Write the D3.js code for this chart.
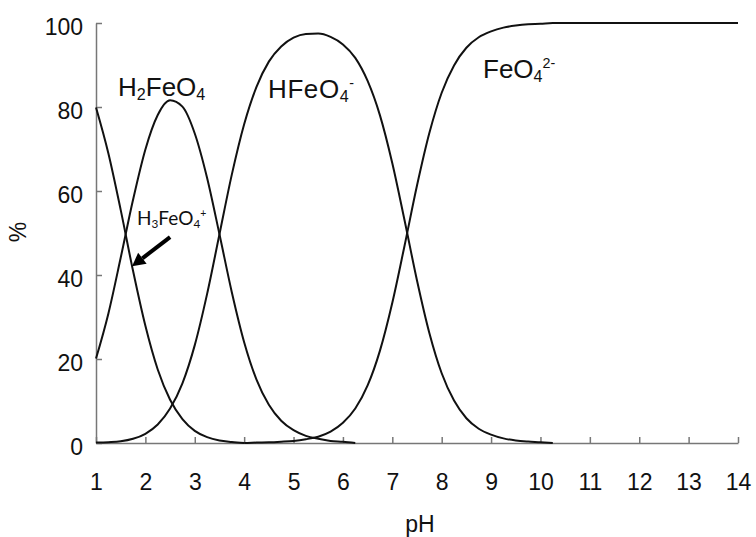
<!DOCTYPE html>
<html>
<head>
<meta charset="utf-8">
<script src="https://cdn.jsdelivr.net/npm/d3@7"></script>
<style>
  body { margin: 0; background: #fff; }
  text { font-family: "Liberation Sans", Arial, sans-serif; fill: #111; }
</style>
</head>
<body>
<div id="chart"></div>
<script>
// pH grid used by the curves (step 0.25)
var ph = [1, 1.25, 1.5, 1.75, 2, 2.25, 2.5, 2.75, 3, 3.25, 3.5, 3.75, 4, 4.25, 4.5, 4.75,
  5, 5.25, 5.5, 5.75, 6, 6.25, 6.5, 6.75, 7, 7.25, 7.5, 7.75, 8, 8.25, 8.5, 8.75,
  9, 9.25, 9.5, 9.75, 10, 10.25];

// % of each species
var h3feo4 = [79.9, 69.0, 55.5, 41.0, 27.9, 17.5, 10.3, 5.7, 2.9, 1.4, 0.6, 0.25, 0];
var h2feo4 = [20.1, 30.8, 44.1, 57.9, 69.9, 78.1, 81.6, 80.1, 73.7, 63.1, 49.7, 35.9,
  24.0, 15.1, 9.1, 5.3, 3.05, 1.7, 1.0, 0.5, 0.3, 0];
var hfeo4 = [0.1, 0.2, 0.4, 1.0, 2.2, 4.4, 8.2, 14.2, 23.3, 35.5, 49.7, 63.9, 75.9, 84.8,
  90.8, 94.4, 96.5, 97.4, 97.5, 96.7, 94.9, 91.7, 86.2, 78.0, 66.6, 52.9, 38.7, 26.2,
  16.6, 10.1, 5.9, 3.4, 2.0, 1.1, 0.6, 0.35, 0.2, 0];
var fePh = [4, 4.25, 4.5, 4.75, 5, 5.25, 5.5, 5.75, 6, 6.25, 6.5, 6.75, 7, 7.25, 7.5, 7.75,
  8, 8.25, 8.5, 8.75, 9, 9.25, 9.5, 9.75, 10, 10.25, 14];
var feo4 = [0, 0.1, 0.15, 0.3, 0.5, 0.9, 1.5, 2.7, 4.8, 8.2, 13.7, 22.0, 33.4, 47.1, 61.3,
  73.8, 83.4, 89.9, 94.1, 96.6, 98.0, 98.9, 99.4, 99.7, 99.8, 100, 100];

var xTicks = [1, 2, 3, 4, 5, 6, 7, 8, 9, 10, 11, 12, 13, 14];
var yTicks = [0, 20, 40, 60, 80, 100];

var width = 756, height = 537;

var svg = d3.select("#chart")
  .append("svg")
    .attr("width", width)
    .attr("height", height);

var x = d3.scaleLinear().domain([1, 14]).range([96, 738]);
var y = d3.scaleLinear().domain([0, 100]).range([443, 23]);

// axes, ticks pointing inward
var xAxis = svg.append("g")
  .attr("transform", "translate(0," + y(0) + ")")
  .call(d3.axisBottom(x).tickValues(xTicks).tickSize(-6).tickSizeOuter(0).tickPadding(31));

var yAxis = svg.append("g")
  .attr("transform", "translate(" + x(1) + ",0)")
  .call(d3.axisLeft(y).tickValues(yTicks).tickSize(-6).tickSizeOuter(0).tickPadding(13));

[xAxis, yAxis].forEach(function(g) {
  g.select(".domain").attr("stroke", "#777").attr("stroke-width", 1.5);
  g.selectAll(".tick line").attr("stroke", "#777").attr("stroke-width", 1.5);
  g.selectAll(".tick text")
    .attr("fill", "#111")
    .style("font-family", "'Liberation Sans', Arial, sans-serif")
    .style("font-size", "23px");
});
yAxis.selectAll(".tick text").attr("dy", "0.5em");

// species curves
var series = [
  {ph: ph.slice(0, h3feo4.length), pct: h3feo4},
  {ph: ph.slice(0, h2feo4.length), pct: h2feo4},
  {ph: ph, pct: hfeo4},
  {ph: fePh, pct: feo4}
];

var line = d3.line()
  .x(function(d) { return x(d[0]); })
  .y(function(d) { return y(d[1]); })
  .curve(d3.curveMonotoneX);

svg.selectAll(".species")
  .data(series)
  .enter()
  .append("path")
    .attr("class", "species")
    .attr("fill", "none")
    .attr("stroke", "#111")
    .attr("stroke-width", 2)
    .attr("d", function(s) { return line(s.ph.map(function(p, i) { return [p, s.pct[i]]; })); });

// species labels
function label(px, py, parts, size, family) {
  var t = svg.append("text")
    .attr("x", px)
    .attr("y", py)
    .style("font-size", size + "px");
  if (family) t.style("font-family", family);
  parts.forEach(function(p) {
    var s = t.append("tspan").text(p[0]);
    if (p[1] === "sub") s.style("font-size", (size * 0.62) + "px").attr("dy", size * 0.15);
    if (p[1] === "sup") s.style("font-size", (size * 0.55) + "px").attr("dy", -size * 0.55);
    if (p[1] === "back") s.attr("dy", -size * 0.15);
    if (p[1] === "backsup") s.attr("dy", size * 0.55);
  });
  return t;
}

label(118, 96, [["H"], ["2", "sub"], ["FeO", "back"], ["4", "sub"]], 26);
label(268, 98, [["HFeO"], ["4", "sub"], ["-", "sup"]], 26).attr("letter-spacing", 0.6);
label(483, 78, [["FeO"], ["4", "sub"], ["2-", "sup"]], 26);
label(137, 225, [["H"], ["3", "sub"], ["FeO", "back"], ["4", "sub"], ["+", "sup"]], 19, "Lato, 'Open Sans', sans-serif");

// arrow pointing at the H3FeO4+ curve
var tail = [x(2.5), y(49)], tip = [x(1.73), y(42.1)];
var ang = Math.atan2(tip[1] - tail[1], tip[0] - tail[0]);
var headLen = 13, headW = 7;
var base = [tip[0] - headLen * Math.cos(ang), tip[1] - headLen * Math.sin(ang)];
svg.append("line")
  .attr("x1", tail[0]).attr("y1", tail[1])
  .attr("x2", base[0]).attr("y2", base[1])
  .attr("stroke", "#000")
  .attr("stroke-width", 4);
svg.append("polygon")
  .attr("fill", "#000")
  .attr("points", [
    tip,
    [base[0] + headW * Math.sin(ang), base[1] - headW * Math.cos(ang)],
    [base[0] - headW * Math.sin(ang), base[1] + headW * Math.cos(ang)]
  ].map(function(p) { return p.join(","); }).join(" "));

// axis titles
svg.append("text")
  .attr("x", 420)
  .attr("y", 532)
  .attr("text-anchor", "middle")
  .style("font-size", "23px")
  .text("pH");

svg.append("text")
  .attr("transform", "translate(18,232) rotate(-90)")
  .attr("text-anchor", "middle")
  .attr("dominant-baseline", "central")
  .style("font-size", "23px")
  .text("%");
</script>
</body>
</html>
